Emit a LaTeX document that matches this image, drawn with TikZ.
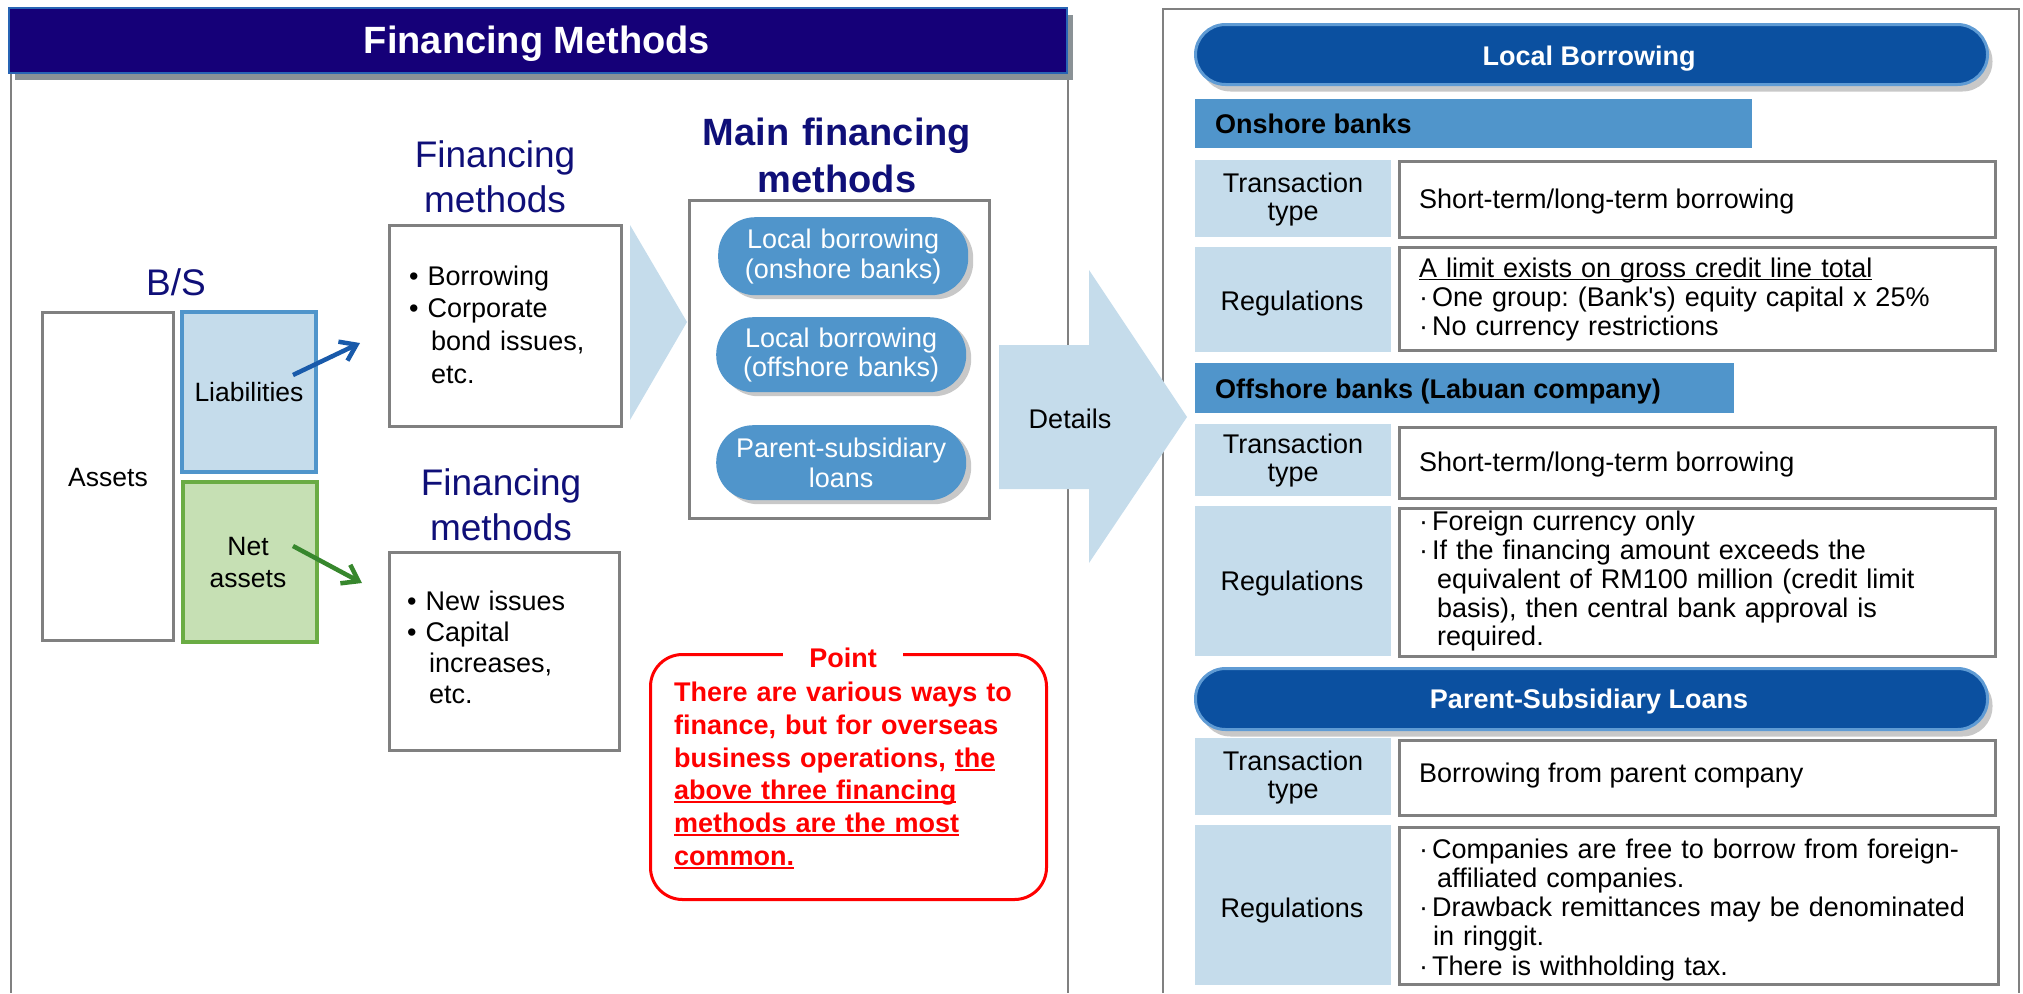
\documentclass[tikz,border=0pt]{standalone}
\usepackage{fontspec}
\setmainfont{Liberation Sans}
\usetikzlibrary{arrows.meta,shadows}
\frenchspacing
\definecolor{titlebg}{RGB}{21,0,120}
\definecolor{titleline}{RGB}{40,100,180}
\definecolor{shadowgray}{RGB}{138,146,150}
\definecolor{pillshadow}{RGB}{200,200,200}
\definecolor{navy}{RGB}{15,15,120}
\definecolor{lblue}{RGB}{197,220,235}
\definecolor{mblue}{RGB}{80,149,203}
\definecolor{dblue}{RGB}{11,80,160}
\definecolor{pborder}{RGB}{95,155,212}
\definecolor{lgreen}{RGB}{198,224,180}
\definecolor{gborder}{RGB}{106,172,68}
\definecolor{bgray}{RGB}{128,128,128}
\definecolor{arrblue}{RGB}{25,90,170}
\definecolor{arrgreen}{RGB}{55,135,45}
\definecolor{ptred}{RGB}{255,0,0}
\newcommand\fsz[2]{\fontsize{#1pt}{#2pt}\selectfont}
\newcommand\stx[1]{\rule{0pt}{0.75em}#1}
\newcommand\myul[1]{\leavevmode\setbox0=\hbox{#1}\rlap{\rule[-3.5pt]{\wd0}{2pt}}\box0}
\newcommand\thinul[1]{\leavevmode\setbox0=\hbox{#1}\rlap{\rule[-3pt]{\wd0}{1.5pt}}\box0}
\newcommand\kd{\leavevmode·\hspace{4pt}}
\tikzset{
  panel/.style={draw=bgray, line width=2.5pt},
  box/.style={draw=bgray, line width=3pt, fill=white, anchor=north west, inner sep=0pt},
  hdr/.style={inner sep=0pt, text width=300pt, align=center, text=navy, font=\fsz{37}{45}},
  btxt/.style={inner sep=0pt, text width=205pt, align=left, anchor=north west},
  pill/.style={fill=mblue, rounded corners=37pt, minimum width=250pt, inner sep=0pt,
    text width=245pt, align=center, text=white, font=\fsz{27}{29.5}, anchor=north west,
    drop shadow={shadow xshift=5pt, shadow yshift=-4pt, fill=pillshadow, opacity=1}},
  bigpill/.style={fill=dblue, draw=pborder, line width=3pt, rounded corners=30pt,
    minimum width=792pt, minimum height=60pt, anchor=north west, inner sep=0pt,
    drop shadow={shadow xshift=5pt, shadow yshift=-7pt, fill=pillshadow, opacity=1}},
  pilltxt/.style={anchor=base, inner sep=0pt, text=white, font=\bfseries\fsz{27}{29}},
  bar/.style={fill=mblue, anchor=north west, inner sep=0pt, minimum height=50pt},
  bartxt/.style={anchor=base west, inner sep=0pt, font=\bfseries\fsz{27}{29}},
  lcell/.style={fill=lblue, minimum width=196pt, anchor=north west, inner sep=0pt},
  vcell/.style={fill=white, draw=bgray, line width=2.5pt, minimum width=596pt, anchor=north west, inner sep=0pt},
  ltxt/.style={inner sep=0pt, text width=190pt, align=center, anchor=north, font=\fsz{27}{28.5}},
  lone/.style={inner sep=0pt, anchor=base, font=\fsz{27}{29}},
  vone/.style={inner sep=0pt, anchor=base west, font=\fsz{27}{29}},
  vtxt/.style={inner sep=0pt, text width=575pt, align=left, anchor=north west, font=\fsz{27}{29}},
  fwarrow/.style={line width=4.5pt, -{Straight Barb[length=15pt,width=21pt]}},
}
\begin{document}
\begin{tikzpicture}[x=1pt,y=-1pt]
\useasboundingbox (0,0) rectangle (2023,993);
% ---------- left panel ----------
\draw[panel] (11,72) -- (11,993);
\draw[panel] (1068,72) -- (1068,993);
\node[draw=titleline, line width=2pt, fill=titlebg, anchor=north west, minimum width=1058pt,
  minimum height=65pt, inner sep=0pt,
  drop shadow={shadow xshift=6pt, shadow yshift=-7pt, fill=shadowgray, opacity=1}] (titlebar) at (8,7) {};
\node[anchor=base, inner sep=0pt, text=white, font=\bfseries\fsz{38}{44}] (titletext) at (537,53) {Financing Methods};

\node[anchor=base, inner sep=0pt, text=navy, font=\fsz{37}{44}] (bs) at (176,295) {B/S};
\node[box, minimum width=131pt, minimum height=328pt, text height=19pt, text depth=0pt, font=\fsz{26.5}{29}] (assets) at (41,311) {Assets};
\node[box, fill=lblue, draw=mblue, line width=4pt, minimum width=134pt, minimum height=160pt,
  text height=19pt, text depth=0pt, font=\fsz{26.5}{29}] (liab) at (180,310) {Liabilities};
\node[box, fill=lgreen, draw=gborder, line width=4pt, minimum width=134pt, minimum height=160pt] (net) at (181,480) {};
\node[inner sep=0pt, text width=130pt, align=center, anchor=north, font=\fsz{26.5}{32}] (nettxt) at (248,535) {\stx{Net\\assets}};

\coordinate (liabA) at (293,375);
\coordinate (liabB) at (360,343);
\coordinate (netA) at (293,546);
\coordinate (netB) at (362,583);
\draw[fwarrow, arrblue] (liabA) -- (liabB);
\draw[fwarrow, arrgreen] (netA) -- (netB);

\node[hdr, anchor=north] (fmA) at (495,139.25) {\stx{Financing\\methods}};
\node[box, minimum width=232pt, minimum height=201pt] (fbA) at (388,224) {};
\node[btxt, font=\fsz{27}{32.7}] (fbAt) at (409,264.75) {\stx{•\ Borrowing\\•\ Corporate\\\hspace*{22pt}bond issues,\\\hspace*{22pt}etc.}};

\node[hdr, anchor=north] (fmB) at (501,467.25) {\stx{Financing\\methods}};
\node[box, minimum width=230pt, minimum height=198pt] (fbB) at (388,551) {};
\node[btxt, font=\fsz{27}{31}] (fbBt) at (407,589.75) {\stx{•\ New issues\\•\ Capital\\\hspace*{22pt}increases,\\\hspace*{22pt}etc.}};

\fill[lblue] (630,225) -- (687,322) -- (630,420) -- cycle;

\node[hdr, font=\bfseries\fsz{38}{47}, anchor=north] (mfm) at (837,116.5) {\stx{Main financing\\methods}};
\node[box, minimum width=300pt, minimum height=318pt] (mbox) at (688,199) {};
\node[pill, minimum height=78pt] (p1) at (718,217) {\stx{Local borrowing\\(onshore banks)}};
\node[pill, minimum height=75pt] (p2) at (716,317) {\stx{Local borrowing\\(offshore banks)}};
\node[pill, minimum height=75pt] (p3) at (716,425) {\stx{Parent-subsidiary\\loans}};

% point box
\node[draw=ptred, line width=3pt, rounded corners=32pt, minimum width=396pt, minimum height=245pt,
  anchor=north west, inner sep=0pt] (pbox) at (649,653) {};
\node[fill=white, inner xsep=26pt, inner ysep=2pt, anchor=base, text=ptred, font=\bfseries\fsz{27}{29}] (plabel) at (843,667) {Point};
\node[anchor=north west, inner sep=0pt, text width=380pt, align=left, text=ptred, font=\bfseries\fsz{27}{32.8}] (ptext) at (674,681)
  {\stx{There are various ways to\\finance, but for overseas\\business operations, \myul{the}\\\myul{above three financing}\\\myul{methods are the most}\\\myul{common.}}};

% ---------- right panel ----------
\draw[panel] (1163,993) -- (1163,9) -- (2019,9) -- (2019,993);

% details arrow
\fill[lblue] (999,345) -- (1089,345) -- (1089,270) -- (1187,417) -- (1089,563) -- (1089,489) -- (999,489) -- cycle;
\node[anchor=base, inner sep=0pt, font=\fsz{27}{29}] (details) at (1070,428) {Details};

\node[bigpill] (lbpill) at (1194,23) {};
\node[pilltxt] (lbtxt) at (1589,65) {Local Borrowing};

\node[bar, minimum width=557pt, minimum height=49pt] (onbar) at (1195,99) {};
\node[bartxt] (ontxt) at (1215,133) {Onshore banks};
\node[lcell, minimum height=77pt] (onLa) at (1195,160) {};
\node[vcell, minimum height=76pt] (onVa) at (1398,160) {};
\node[ltxt] (onLat) at (1293,171.75) {\stx{Transaction\\type}};
\node[vone] (onVat) at (1419,208) {Short-term/long-term borrowing};
\node[lcell, minimum height=105pt] (onLb) at (1195,247) {};
\node[vcell, minimum height=103pt] (onVb) at (1398,246) {};
\node[lone] (onLbt) at (1292,310) {Regulations};
\node[vtxt] (onVbt) at (1419,256.75) {\stx{\thinul{A limit exists on gross credit line total}\\\kd One group: (Bank\textquotesingle s) equity capital x 25\%\\\kd No currency restrictions}};

\node[bar, minimum width=539pt] (offbar) at (1195,363) {};
\node[bartxt] (offtxt) at (1215,398) {Offshore banks (Labuan company)};
\node[lcell, minimum height=72pt] (offLa) at (1195,424) {};
\node[vcell, minimum height=71pt] (offVa) at (1398,426) {};
\node[ltxt] (offLat) at (1293,432.75) {\stx{Transaction\\type}};
\node[vone] (offVat) at (1419,471) {Short-term/long-term borrowing};
\node[lcell, minimum height=150pt] (offLb) at (1195,506) {};
\node[vcell, minimum height=148pt] (offVb) at (1398,507) {};
\node[lone] (offLbt) at (1292,590) {Regulations};
\node[vtxt, font=\fsz{27}{28.8}] (offVbt) at (1419,510.25) {\stx{\kd Foreign currency only\\\kd If the financing amount exceeds the\\\hspace*{18pt}equivalent of RM100 million (credit limit\\\hspace*{18pt}basis), then central bank approval is\\\hspace*{18pt}required.}};

\node[bigpill, minimum height=61pt] (pspill) at (1194,667) {};
\node[pilltxt] (pstxt) at (1589,708) {Parent-Subsidiary Loans};
\node[lcell, minimum height=77pt] (psLa) at (1195,738) {};
\node[vcell, minimum height=75pt] (psVa) at (1398,739) {};
\node[ltxt] (psLat) at (1293,749.75) {\stx{Transaction\\type}};
\node[vone] (psVat) at (1419,782) {Borrowing from parent company};
\node[lcell, minimum height=160pt] (psLb) at (1195,825) {};
\node[vcell, minimum height=157pt, minimum width=599pt] (psVb) at (1398,826) {};
\node[lone] (psLbt) at (1292,917) {Regulations};
\node[vtxt, font=\fsz{27}{29.25}] (psVbt) at (1419,837.75) {\stx{\kd Companies are free to borrow from foreign-\\\hspace*{18pt}affiliated companies.\\\kd Drawback remittances may be denominated\\\hspace*{14pt}in ringgit.\\\kd There is withholding tax.}};
\end{tikzpicture}
\end{document}
